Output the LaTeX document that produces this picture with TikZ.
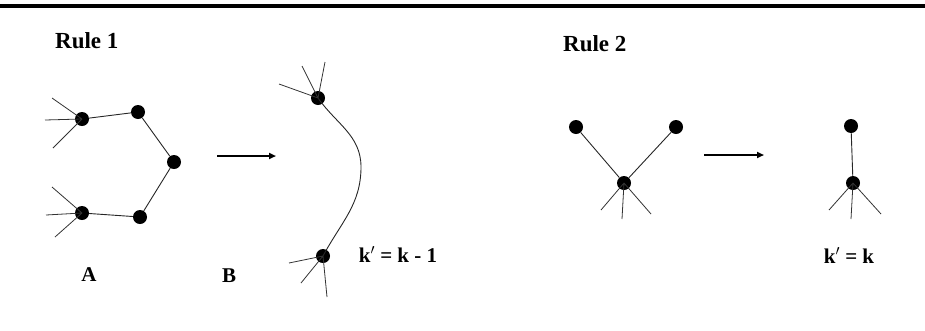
\documentclass[tikz,border=0pt]{standalone}
\usepackage{fontspec}
\setmainfont{Liberation Serif}
\usetikzlibrary{arrows.meta}
\tikzset{
  vtx/.style={circle,fill=black,draw=none,minimum size=14pt,inner sep=0pt},
  edge/.style={line width=0.9pt,draw=black!85},
  stub/.style={line width=0.8pt,draw=black!80},
  bigarrow/.style={line width=2.2pt,-{Triangle[length=7pt,width=6pt]}},
  lbl/.style={font=\fontsize{23}{26}\selectfont\bfseries,inner sep=0pt},
  eqlbl/.style={font=\fontsize{21}{24}\selectfont\bfseries,inner sep=0pt},
  letter/.style={font=\fontsize{21}{24}\selectfont\bfseries,inner sep=0pt}
}
\begin{document}
\begin{tikzpicture}[x=1pt,y=-1pt]
\useasboundingbox (0,0) rectangle (925,330);
% top rule
\coordinate (tl) at (0,5.8);
\coordinate (tr) at (925,5.8);
\draw[line width=3.4pt] (tl) -- (tr);
% titles
\node[lbl,anchor=base west] (r1) at (55,48) {Rule 1};
\node[lbl,anchor=base west] (r2) at (563,51) {Rule 2};
% ---- Rule 1 left graph
\node[vtx] (a) at (82,119) {};
\node[vtx] (b) at (138,112) {};
\node[vtx] (c) at (174,162) {};
\node[vtx] (d) at (140,217) {};
\node[vtx] (e) at (82,213) {};
\draw[edge] (a) -- (b) -- (c) -- (d) -- (e);
\coordinate (a1) at (52,98);
\coordinate (a2) at (45,120);
\coordinate (a3) at (53,148);
\coordinate (e1) at (52,187);
\coordinate (e2) at (46,215);
\coordinate (e3) at (55,237);
\draw[stub] (a.center) -- (a1) (a.center) -- (a2) (a.center) -- (a3);
\draw[stub] (e.center) -- (e1) (e.center) -- (e2) (e.center) -- (e3);
\node[letter,anchor=base] (A) at (89,281) {A};
\node[letter,anchor=base] (B) at (229,282) {B};
% arrow 1
\coordinate (ar1s) at (217,156);
\coordinate (ar1e) at (276,156);
\draw[bigarrow] (ar1s) -- (ar1e);
% ---- Rule 1 right graph
\node[vtx] (f) at (318,98) {};
\node[vtx] (g) at (323,256) {};
\coordinate (fm) at (361,167);
\draw[edge] (f.center) to[out=-55,in=90] (fm) to[out=-90,in=62] (g.center);
\coordinate (f1) at (279,84);
\coordinate (f2) at (302,66);
\coordinate (f3) at (325,62);
\coordinate (g1) at (289,263);
\coordinate (g2) at (301,283);
\coordinate (g3) at (327,297);
\draw[stub] (f.center) -- (f1) (f.center) -- (f2) (f.center) -- (f3);
\draw[stub] (g.center) -- (g1) (g.center) -- (g2) (g.center) -- (g3);
\node[eqlbl,anchor=base] (eq1) at (398,262) {k$'$ = k - 1};
% ---- Rule 2 left graph
\node[vtx] (p) at (576,127) {};
\node[vtx] (q) at (676,127) {};
\node[vtx] (r) at (624,183) {};
\draw[edge] (p) -- (r) -- (q);
\coordinate (r1c) at (601,210);
\coordinate (r2c) at (622,219);
\coordinate (r3c) at (651,214);
\draw[stub] (r.center) -- (r1c) (r.center) -- (r2c) (r.center) -- (r3c);
% arrow 2
\coordinate (ar2s) at (704,155);
\coordinate (ar2e) at (764,155);
\draw[bigarrow] (ar2s) -- (ar2e);
% ---- Rule 2 right graph
\node[vtx] (s) at (851,126) {};
\node[vtx] (t) at (853,183) {};
\draw[edge] (s) -- (t);
\coordinate (t1) at (829,210);
\coordinate (t2) at (851,219);
\coordinate (t3) at (881,214);
\draw[stub] (t.center) -- (t1) (t.center) -- (t2) (t.center) -- (t3);
\node[eqlbl,anchor=base] (eq2) at (849,263) {k$'$ = k};
\end{tikzpicture}
\end{document}
